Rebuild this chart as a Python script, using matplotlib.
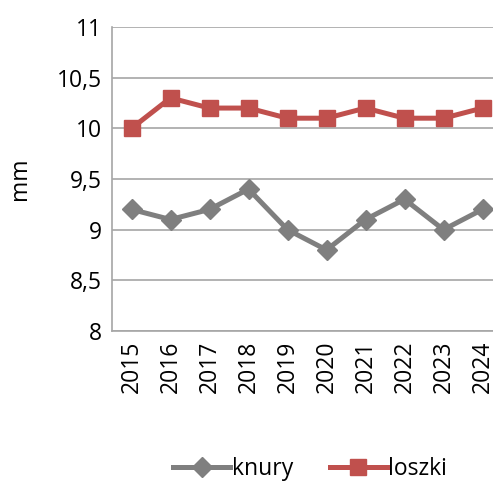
import matplotlib
matplotlib.use("Agg")
import matplotlib.pyplot as plt
from matplotlib.ticker import FuncFormatter

years = ["2015", "2016", "2017", "2018", "2019", "2020", "2021", "2022", "2023", "2024"]
knury = [9.2, 9.1, 9.2, 9.4, 9.0, 8.8, 9.1, 9.3, 9.0, 9.2]
loszki = [10.0, 10.3, 10.2, 10.2, 10.1, 10.1, 10.2, 10.1, 10.1, 10.2]
yticks = [8, 8.5, 9, 9.5, 10, 10.5, 11]

plt.rcParams['font.family'] = ['Open Sans', 'DejaVu Sans']

fig = plt.figure(figsize=(4.93, 4.83), dpi=100)
ax = fig.add_axes([112/493, 1 - 331/483, 390/493, 304/483])

x = list(range(len(years)))
ax.plot(x, knury, color="#7f7f7f", lw=3.6, marker="D", ms=10.5, label="knury", zorder=3)
ax.plot(x, loszki, color="#c0504d", lw=3.6, marker="s", ms=12, label="loszki", zorder=3)

ax.set_xlim(-0.5, len(years) - 0.5)
ax.set_ylim(8, 11)
ax.set_yticks(yticks)
ax.yaxis.set_major_formatter(FuncFormatter(lambda v, p: (f"{v:g}").replace(".", ",")))
ax.set_xticks(x)
ax.set_xticklabels(years, rotation=90)
ax.tick_params(axis="both", length=0, labelsize=16.5, colors="black", pad=7)
ax.grid(axis="y", color="#a6a6a6", lw=1.2)
ax.set_axisbelow(True)
for s in ["top", "right"]:
    ax.spines[s].set_visible(False)
for s in ["left", "bottom"]:
    ax.spines[s].set_color("#a6a6a6")
    ax.spines[s].set_linewidth(1.2)
ax.set_ylabel("mm", fontsize=16.5, labelpad=18)

fig.legend(loc="center", bbox_to_anchor=(310/493, 1 - 469/483), ncol=2, frameon=False,
           fontsize=16.5, handlelength=2.5, columnspacing=1.6, handletextpad=0.05)

fig.savefig("out.png", dpi=100)
